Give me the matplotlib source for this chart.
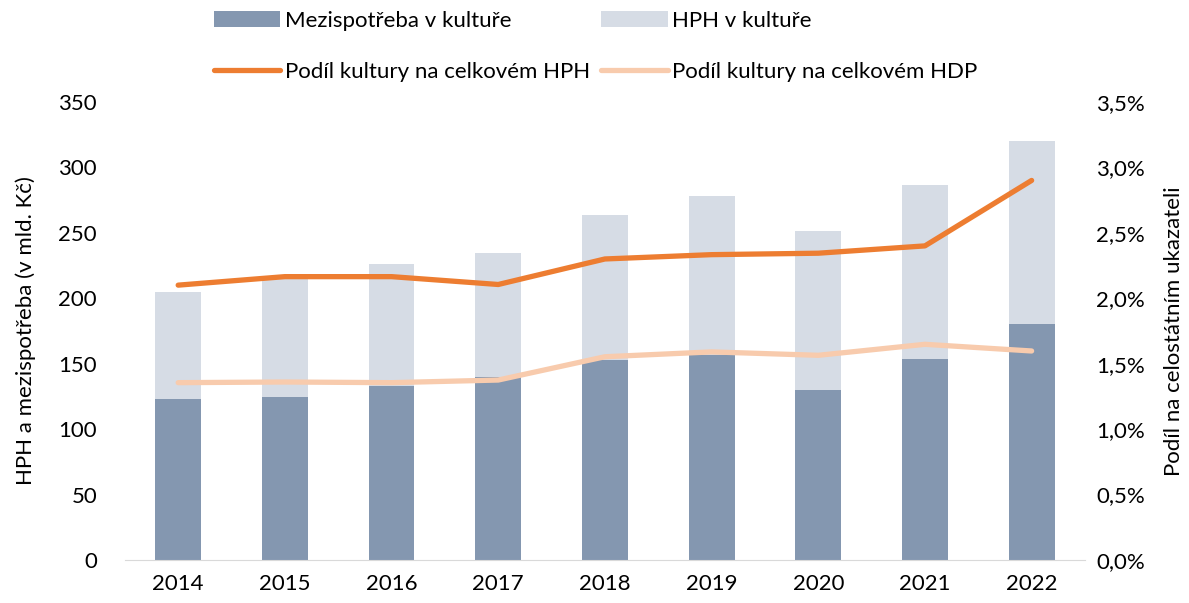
import matplotlib.pyplot as plt
import numpy as np
from matplotlib.ticker import FuncFormatter

plt.rcParams['font.family'] = ['Lato', 'DejaVu Sans']

years = ['2014', '2015', '2016', '2017', '2018', '2019', '2020', '2021', '2022']
mezispotreba = [123, 124.5, 133, 140, 152.5, 156.5, 130, 153.5, 180]
celkem = [204.7, 215, 226, 234.5, 263.8, 278.3, 251.3, 286.5, 320.3]
hph = [c - m for c, m in zip(celkem, mezispotreba)]
podil_hph = [2.10, 2.165, 2.165, 2.105, 2.30, 2.333, 2.344, 2.40, 2.90]
podil_hdp = [1.355, 1.36, 1.355, 1.375, 1.553, 1.59, 1.564, 1.648, 1.597]

c_mezi = '#8497B0'
c_hph = '#D6DCE5'
c_line1 = '#ED7D31'
c_line2 = '#F8CBAD'

fig = plt.figure(figsize=(11.89, 6.03), dpi=100)
ax = fig.add_axes([0.105, 0.0713, 0.8075, 0.7597])
x = np.arange(len(years))
w = 0.43
b1 = ax.bar(x, mezispotreba, w, color=c_mezi, label='Mezispotřeba v kultuře')
b2 = ax.bar(x, hph, w, bottom=mezispotreba, color=c_hph, label='HPH v kultuře')
ax.set_xlim(-0.5, len(years) - 0.5)
ax.set_ylim(0, 350)
ax.set_yticks(range(0, 351, 50))
ax.set_xticks(x)
ax.set_xticklabels(years)
for s in ['top', 'right', 'left']:
    ax.spines[s].set_visible(False)
ax.spines['bottom'].set_color('#D9D9D9')
ax.tick_params(length=0, labelsize=16, pad=10)
ax.tick_params(axis='y', pad=20)
ax.set_ylabel('HPH a mezispotřeba (v mld. Kč)', fontsize=16, labelpad=16)

ax2 = ax.twinx()
l1, = ax2.plot(x, podil_hph, color=c_line1, lw=3.8, solid_capstyle='round',
               label='Podíl kultury na celkovém HPH')
l2, = ax2.plot(x, podil_hdp, color=c_line2, lw=3.8, solid_capstyle='round',
               label='Podíl kultury na celkovém HDP')
ax2.set_ylim(0, 3.5)
ax2.set_yticks(np.arange(0, 3.51, 0.5))
ax2.yaxis.set_major_formatter(FuncFormatter(lambda v, p: f'{v:.1f}%'.replace('.', ',')))
for s in ['top', 'right', 'left', 'bottom']:
    ax2.spines[s].set_visible(False)
ax2.tick_params(length=0, labelsize=16, pad=8)
ax2.set_ylabel('Podíl na celostátním ukazateli', fontsize=16, labelpad=14)

fig.legend(handles=[b1, l1, b2, l2], ncol=2, loc='upper left',
           bbox_to_anchor=(0.163, 1.015), frameon=False, fontsize=16,
           handlelength=3.0, handletextpad=0.2, columnspacing=0.5,
           labelspacing=1.4)

fig.savefig('out.png', dpi=100)
